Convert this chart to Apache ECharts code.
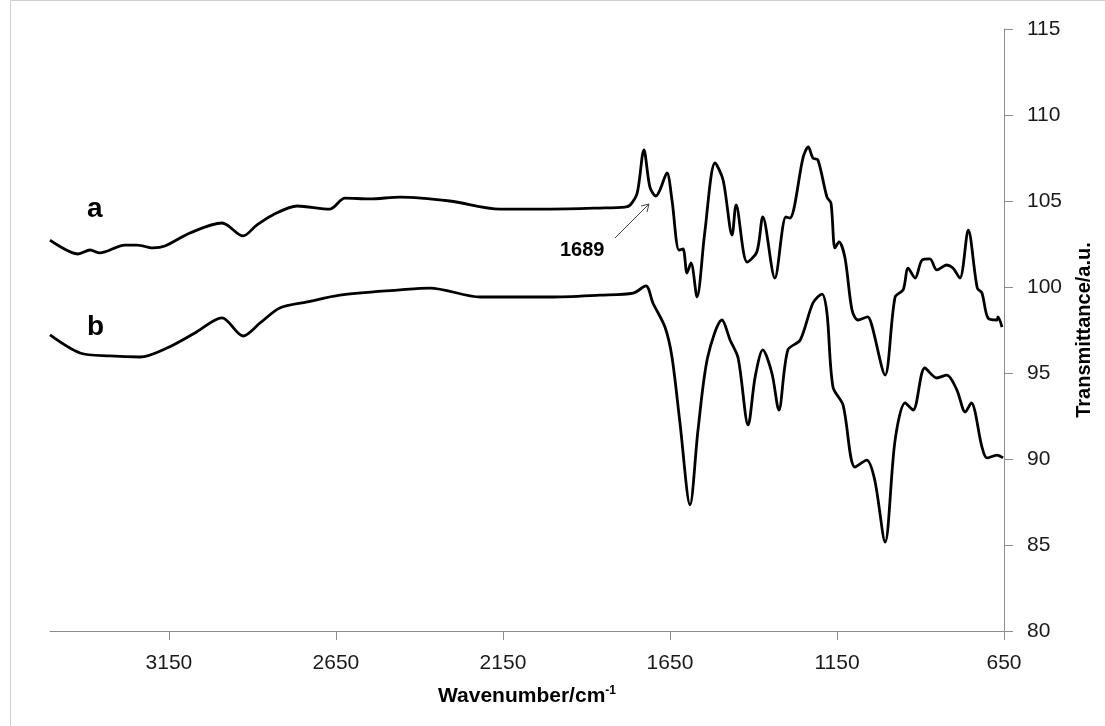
<!DOCTYPE html>
<html>
<head>
<meta charset="utf-8">
<script src="https://cdn.jsdelivr.net/npm/echarts@6/dist/echarts.min.js"></script>
<style>html,body{margin:0;padding:0;background:#fff}#c{width:1105px;height:726px}</style>
</head>
<body>
<div id="c"></div>
<script>
// Spectrum a
var waveA = [3506,3422,3386,3357,3282,3245,3198,3162,3087,2991,2928,2887,2839,2766,2668,2623,2549,2458,2309,2159,2009,1860,1785,1769,1748,1728,1710,1692,1680,1659,1644,1623,1611,1599,1587,1569,1546,1515,1491,1464,1452,1419,1390,1372,1336,1303,1291,1251,1236,1222,1207,1180,1168,1156,1144,1126,1105,1087,1058,1046,1006,976,952,937,916,895,872,851,821,803,782,757,730,716,698,671,668,656];
var transA = [102.73,101.92,102.15,101.98,102.44,102.44,102.27,102.38,103.14,103.72,102.97,103.60,104.19,104.71,104.53,105.17,105.12,105.23,105.00,104.53,104.53,104.59,104.65,104.77,105.47,107.97,105.81,105.29,105.64,106.63,105.06,102.15,102.21,100.81,101.40,99.42,103.14,107.21,106.22,103.02,104.77,101.45,102.03,104.07,100.52,104.07,104.01,107.56,108.14,107.50,107.38,105.23,104.88,102.27,102.62,101.69,98.66,98.08,98.26,97.79,94.88,99.42,99.83,101.10,100.52,101.57,101.63,100.99,101.28,101.10,100.52,103.31,99.94,99.65,98.20,98.08,98.26,97.67];
// Spectrum b
var waveB = [3506,3416,3327,3236,3156,3072,2991,2928,2877,2818,2736,2638,2458,2369,2218,2009,1860,1760,1722,1701,1665,1644,1620,1590,1566,1537,1494,1470,1446,1416,1395,1372,1345,1324,1297,1260,1222,1195,1180,1162,1132,1096,1061,1037,1006,976,946,922,887,851,821,791,766,748,716,701,671,653];
var transB = [97.21,96.16,95.99,95.93,96.45,97.33,98.20,97.15,97.91,98.78,99.13,99.53,99.83,99.94,99.42,99.42,99.53,99.65,100.06,99.07,97.67,95.93,92.09,87.33,91.69,95.93,98.08,96.92,95.87,91.98,94.77,96.34,95.00,92.85,96.34,96.92,99.07,99.59,98.49,94.19,93.14,89.53,89.94,88.78,85.17,91.10,93.26,92.85,95.29,94.71,94.88,94.01,92.73,93.26,90.70,90.06,90.23,90.06];
var xTicks = [650,1150,1650,2150,2650,3150];
var yMin = 80, yMax = 115, yStep = 5;
var xMin = 650, xMax = 3506;

function zip(a, b) { return a.map(function (v, i) { return [v, b[i]]; }); }

var chart = echarts.init(document.getElementById('c'), null, {renderer: 'canvas'});
var axisGray = '#8c8c8c';
var lab = 'Liberation Sans, Arial, sans-serif';
chart.setOption({
  animation: false,
  backgroundColor: '#fff',
  grid: {left: 50, right: 101, top: 29, bottom: 95, containLabel: false},
  xAxis: {
    type: 'value', min: xMin, max: xMax, inverse: true,
    splitLine: {show: false},
    axisLine: {lineStyle: {color: axisGray, width: 1}},
    axisTick: {show: true, length: 9, lineStyle: {color: axisGray}, customValues: xTicks},
    axisLabel: {customValues: xTicks, margin: 22, color: '#1a1a1a', fontSize: 21, fontFamily: lab,
      formatter: function (v) { return String(v); }},
    name: '{t|Wavenumber/cm}{s|-1}',
    nameLocation: 'middle', nameGap: 54,
    nameTextStyle: {
      rich: {
        t: {fontSize: 21, fontWeight: 'bold', fontFamily: lab, color: '#000'},
        s: {fontSize: 12, fontWeight: 'bold', fontFamily: lab, color: '#000', verticalAlign: 'top', padding: [0,0,10,0]}
      }
    }
  },
  yAxis: {
    type: 'value', position: 'right', min: yMin, max: yMax, interval: yStep,
    splitLine: {show: false},
    axisLine: {show: true, lineStyle: {color: axisGray, width: 1}},
    axisTick: {show: true, length: 9, lineStyle: {color: axisGray}},
    axisLabel: {margin: 23, color: '#1a1a1a', fontSize: 21, fontFamily: lab},
    name: 'Transmittance/a.u.', nameLocation: 'middle', nameGap: 70, nameRotate: 90,
    nameTextStyle: {fontSize: 20, fontWeight: 'bold', fontFamily: lab, color: '#000'}
  },
  series: [
    {type: 'line', name: 'a', data: zip(waveA, transA), showSymbol: false, smooth: 0.3,
     lineStyle: {color: '#000', width: 2.8}},
    {type: 'line', name: 'b', data: zip(waveB, transB), showSymbol: false, smooth: 0.3,
     lineStyle: {color: '#000', width: 2.8}}
  ],
  graphic: [
    {type: 'rect', silent: true, shape: {x: 10.5, y: 0.5, width: 1200, height: 800}, style: {fill: 'none', stroke: '#d0d0d0', lineWidth: 1}},
    {type: 'text', left: 87, top: 195, style: {text: 'a', fontSize: 28, fontWeight: 'bold', fontFamily: lab, fill: '#000'}},
    {type: 'text', left: 87, top: 313, style: {text: 'b', fontSize: 28, fontWeight: 'bold', fontFamily: lab, fill: '#000'}},
    {type: 'text', left: 560, top: 240, style: {text: '1689', fontSize: 20, fontWeight: 'bold', fontFamily: lab, fill: '#000'}},
    {type: 'line', shape: {x1: 615, y1: 238, x2: 649, y2: 204}, style: {stroke: '#444', lineWidth: 1}},
    {type: 'polyline', shape: {points: [[641, 206], [649, 204], [647, 212]]}, style: {stroke: '#444', lineWidth: 1, fill: 'none'}}
  ]
});
</script>
</body>
</html>
